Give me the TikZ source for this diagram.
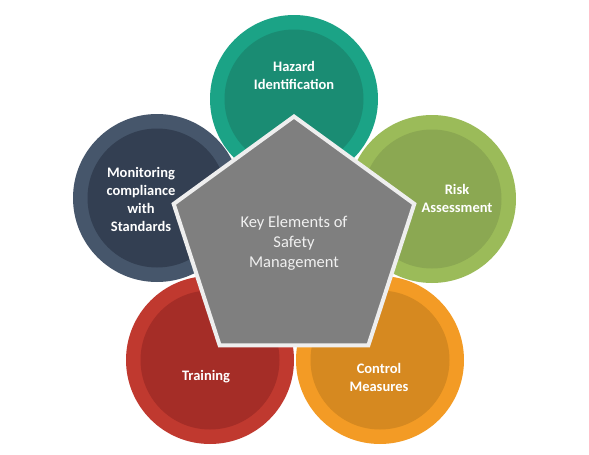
\documentclass[tikz,border=0pt]{standalone}
\usepackage{fontspec}
\setmainfont{Carlito}
\usepackage{tikz}
\usetikzlibrary{shapes.geometric}
\definecolor{tealout}{HTML}{1BA386}
\definecolor{tealin}{HTML}{1A8C73}
\definecolor{slateout}{HTML}{46566B}
\definecolor{slatein}{HTML}{333F52}
\definecolor{greenout}{HTML}{9BBB59}
\definecolor{greenin}{HTML}{8BA852}
\definecolor{redout}{HTML}{C0392F}
\definecolor{redin}{HTML}{A52D27}
\definecolor{orangeout}{HTML}{F39B25}
\definecolor{orangein}{HTML}{D68920}
\definecolor{coregray}{HTML}{7F7F7F}
\definecolor{coreedge}{HTML}{EEEEEE}
\tikzstyle{ring} = [circle, minimum size=168pt, inner sep=0pt]
\tikzstyle{disc} = [circle, minimum size=139pt, inner sep=0pt]
\tikzstyle{itemtext} = [text=white, align=center, font=\bfseries\fontsize{14.5}{18}\selectfont]
\tikzstyle{core} = [regular polygon, regular polygon sides=5, minimum size=253pt, inner sep=0pt, fill=coregray, draw=coreedge, line width=4pt, line join=miter, text=white!94!black, align=center, font=\fontsize{16.5}{20}\selectfont]

\begin{document}
\begin{tikzpicture}[x=1pt, y=-1pt]
\useasboundingbox (0,0) rectangle (589,455);

\node(hazard)  [ring, fill=tealout] at (294,99) {};
\node          [disc, fill=tealin] at (hazard) {};
\node(hazardtxt) [itemtext] at (294,75) {Hazard\\Identification};

\node(monitor) [ring, fill=slateout] at (157,198) {};
\node          [disc, fill=slatein] at (monitor) {};
\node(monitortxt) [itemtext] at (141,199) {Monitoring\\compliance\\with\\Standards};

\node(risk)    [ring, fill=greenout] at (432,199) {};
\node          [disc, fill=greenin] at (risk) {};
\node(risktxt) [itemtext] at (457,198) {Risk\\Assessment};

\node(training) [ring, fill=redout] at (210,360) {};
\node           [disc, fill=redin] at (training) {};
\node(trainingtxt) [itemtext] at (206,377) {Training};

\node(control) [ring, fill=orangeout] at (380,360) {};
\node          [disc, fill=orangein] at (control) {};
\node(controltxt) [itemtext] at (379,377) {Control\\Measures};

\node(keyelements) [core] at (294,243) {Key Elements of\\Safety\\Management};

\end{tikzpicture}
\end{document}
